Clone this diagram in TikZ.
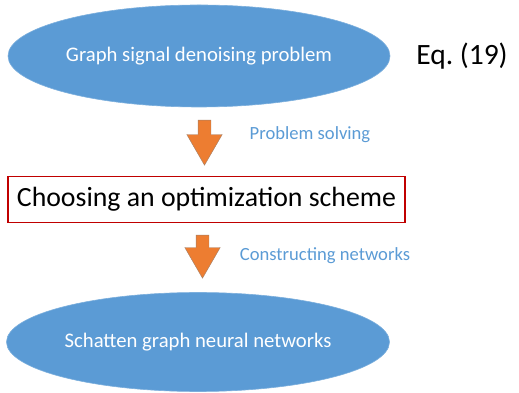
\documentclass[tikz,border=0pt]{standalone}
\usepackage{fontspec}
\setmainfont{Carlito}
\usetikzlibrary{shapes.geometric,shapes.arrows}
\definecolor{ovalblue}{HTML}{5B9BD5}
\definecolor{steporange}{HTML}{ED7D31}
\definecolor{boxred}{HTML}{C00000}
\tikzset{
  oval/.style={ellipse, fill=ovalblue, draw=ovalblue!80!white, line width=0.6pt,
    text=white, font=\fontsize{20.7}{24}\selectfont, inner sep=0pt},
  stepbox/.style={rectangle, draw=boxred, line width=1.1pt, fill=white,
    font=\fontsize{27.8}{32}\selectfont, inner sep=0pt},
  downarrow/.style={single arrow, fill=steporange, draw=gray!70!steporange, line width=0.4pt,
    rotate=-90, anchor=tail, inner xsep=0pt, inner ysep=6.25pt,
    single arrow head extend=11.25pt, single arrow tip angle=60},
  steplabel/.style={text=ovalblue, font=\fontsize{18.6}{22}\selectfont}
}
\begin{document}
\begin{tikzpicture}[x=1pt,y=1pt]
  \useasboundingbox (0,0) rectangle (519,393);
  % the three stages
  \node [oval, minimum width=382pt, minimum height=102pt] (problem) at (199,337) {Graph signal denoising problem};
  \node [stepbox, minimum width=397pt, minimum height=46pt] (scheme) at (206.5,193.5) {Choosing an optimization scheme};
  \node [oval, minimum width=383pt, minimum height=99pt] (sgnn) at (198,51) {Schatten graph neural networks};
  \node [font=\fontsize{29.5}{34}\selectfont] (eq) at (462,337) {Eq.\ (19)};
  % block arrows between the stages
  \node [downarrow, minimum height=45pt] (solve) at (204.5,273) {};
  \node [downarrow, minimum height=43pt] (build) at (202.5,158) {};
  \node [steplabel] at (310,258) {Problem solving};
  \node [steplabel] at (325,137) {Constructing networks};
\end{tikzpicture}
\end{document}
